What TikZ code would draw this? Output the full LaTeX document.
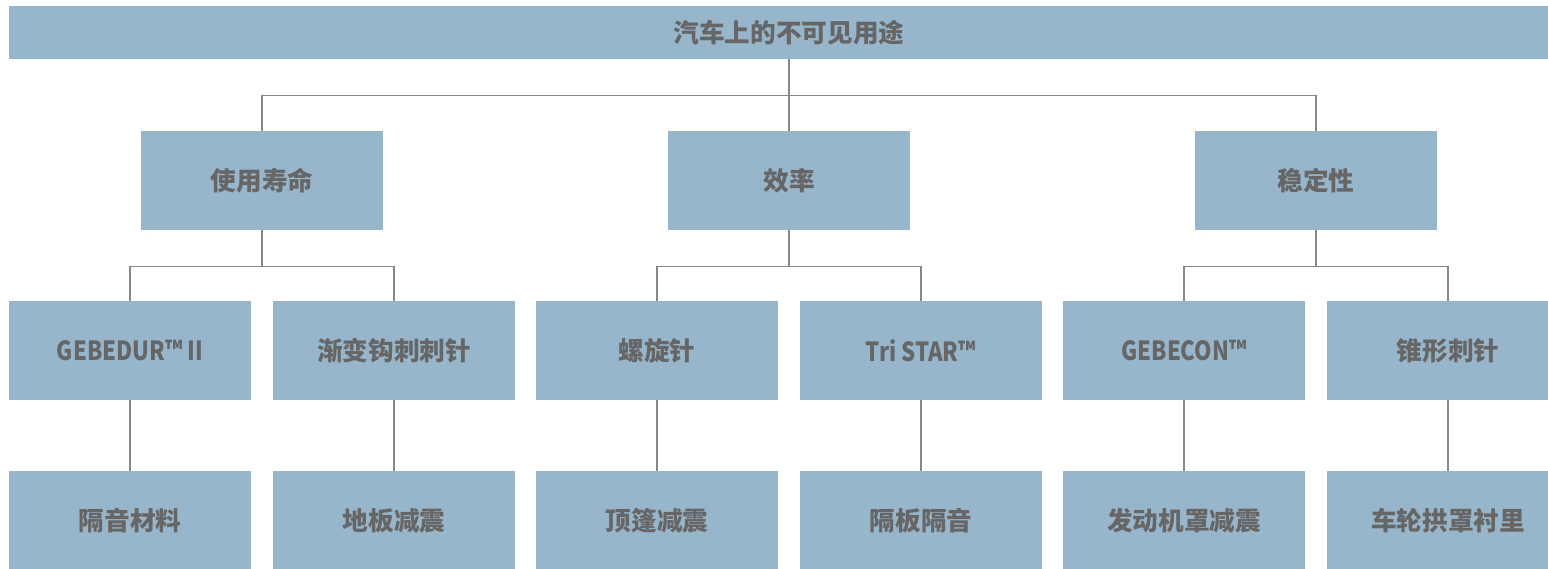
\documentclass[tikz,border=0pt]{standalone}
\usepackage{fontspec}
\setmainfont{Noto Sans CJK SC}
\newfontfamily\narrowfont{Noto Sans CJK SC}[FakeStretch=0.84]
\definecolor{boxblue}{RGB}{152, 182, 203}
\definecolor{textgray}{RGB}{102, 102, 102}
\definecolor{linegray}{RGB}{135, 135, 135}
\usetikzlibrary{positioning, calc}

\tikzset{
  boxnode/.style={fill=boxblue, text=textgray, inner sep=0pt, minimum width=4.84cm, minimum height=1.98cm,
    font=\fontsize{14.6}{17}\selectfont\bfseries},
  brandnode/.style={boxnode, font=\fontsize{15}{17}\selectfont\narrowfont\bfseries},
  linkline/.style={draw=linegray, line width=0.6pt}
}

\begin{document}
\begin{tikzpicture}[x=0.02cm, y=-0.02cm]
  \useasboundingbox (0, 0) rectangle (1548, 568);

  % Top bar
  \node[boxnode, minimum width=31.2cm, minimum height=1.06cm] (top) at (789, 32.5) {汽车上的不可见用途};

  % Second level
  \node[boxnode] (life) at (262, 180.5) {使用寿命};
  \node[boxnode] (eff) at (789, 180.5) {效率};
  \node[boxnode] (stab) at (1316, 180.5) {稳定性};

  % Products
  \node[brandnode] (gebedur) at (130, 350.5) {GEBEDUR™ II};
  \node[boxnode] (hook) at (394, 350.5) {渐变钩刺刺针};
  \node[boxnode] (spiral) at (657, 350.5) {螺旋针};
  \node[brandnode] (tristar) at (921, 350.5) {Tri STAR™};
  \node[brandnode] (gebecon) at (1184, 350.5) {GEBECON™};
  \node[boxnode] (cone) at (1448, 350.5) {锥形刺针};

  % Applications
  \node[boxnode] (insul) at (130, 520.5) {隔音材料};
  \node[boxnode] (floor) at (394, 520.5) {地板减震};
  \node[boxnode] (roof) at (657, 520.5) {顶篷减震};
  \node[boxnode] (bulk) at (921, 520.5) {隔板隔音};
  \node[boxnode] (hood) at (1184, 520.5) {发动机罩减震};
  \node[boxnode] (wheel) at (1448, 520.5) {车轮拱罩衬里};

  % Connectors
  \draw[linkline] (top.south) -- ++(0, 36) coordinate (busa);
  \draw[linkline] (life.north) |- (busa) -| (stab.north);
  \draw[linkline] (busa) -- (eff.north);

  \draw[linkline] (life.south) -- ++(0, 36) coordinate (busb);
  \draw[linkline] (gebedur.north) |- (busb) -| (hook.north);
  \draw[linkline] (eff.south) -- ++(0, 36) coordinate (busc);
  \draw[linkline] (spiral.north) |- (busc) -| (tristar.north);
  \draw[linkline] (stab.south) -- ++(0, 36) coordinate (busd);
  \draw[linkline] (gebecon.north) |- (busd) -| (cone.north);

  \draw[linkline] (gebedur) -- (insul);
  \draw[linkline] (hook) -- (floor);
  \draw[linkline] (spiral) -- (roof);
  \draw[linkline] (tristar) -- (bulk);
  \draw[linkline] (gebecon) -- (hood);
  \draw[linkline] (cone) -- (wheel);
\end{tikzpicture}
\end{document}
